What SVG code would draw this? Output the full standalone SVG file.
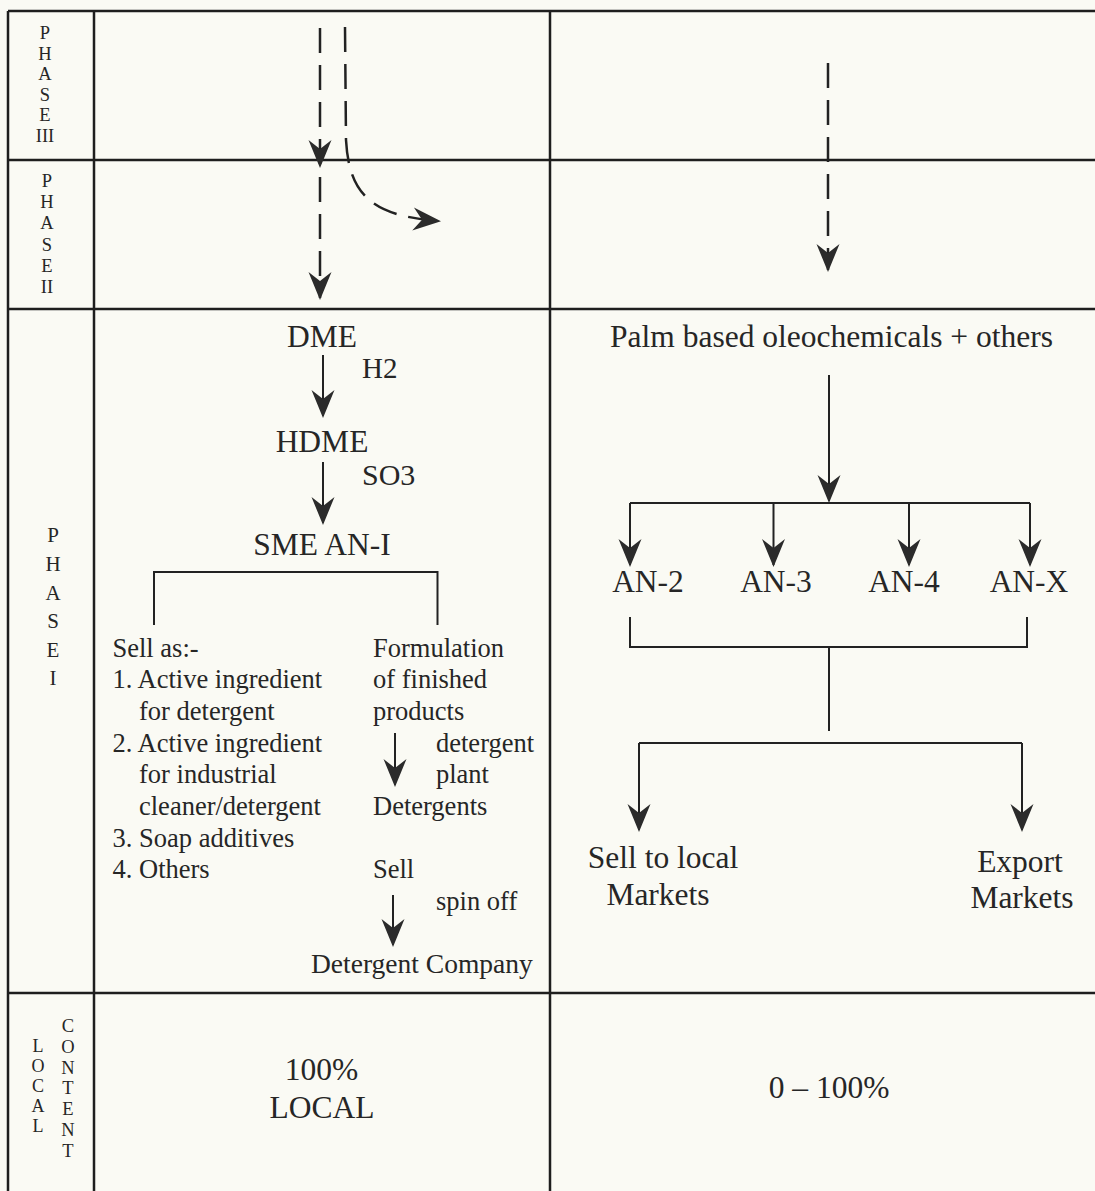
<svg xmlns="http://www.w3.org/2000/svg" width="1095" height="1191" viewBox="0 0 1095 1191">
<style>
text{font-family:"Liberation Serif","Times New Roman",serif;fill:#262626}
.lbl{font-size:18.5px;text-anchor:middle}
.lbl1{font-size:21px;text-anchor:middle}
.lbl2{font-size:18px;text-anchor:middle}
.big{font-size:31.5px}
.mid{text-anchor:middle}
.sm{font-size:26.5px}
.grid{stroke:#1e1e1e;stroke-width:2.5;fill:none}
.ln{stroke:#222;stroke-width:2;fill:none}
.arr{stroke:#222;stroke-width:2;fill:none;marker-end:url(#ah)}
.dash{stroke:#222;stroke-width:2.5;fill:none;stroke-dasharray:25 12;marker-end:url(#ah)}
</style>
<defs>
<marker id="ah" viewBox="-30 -13 32 26" refX="-2" refY="0" markerWidth="32" markerHeight="26" orient="auto" markerUnits="userSpaceOnUse">
<path d="M0,0 L-28,-11.5 L-19,0 L-28,11.5 Z" fill="#2b2b2b"/>
</marker>
</defs>
<rect width="1095" height="1191" fill="#fafaf4"/>
<g id="grid">
<path class="grid" d="M8,11 H1095 M8,160 H1095 M8,309 H1095 M8,993 H1095 M8,11 V1191 M94,11 V1191 M550,11 V1191"/>
</g>
<g id="row-labels">
<g id="label-phase3"><text class="lbl"><tspan x="45" y="39">P</tspan><tspan x="45" y="59.6">H</tspan><tspan x="45" y="80.2">A</tspan><tspan x="45" y="100.8">S</tspan><tspan x="45" y="121.4">E</tspan><tspan x="45" y="142">III</tspan></text></g>
<g id="label-phase2"><text class="lbl"><tspan x="47" y="187">P</tspan><tspan x="47" y="208.2">H</tspan><tspan x="47" y="229.4">A</tspan><tspan x="47" y="250.6">S</tspan><tspan x="47" y="271.8">E</tspan><tspan x="47" y="293">II</tspan></text></g>
<g id="label-phase1"><text class="lbl1"><tspan x="53" y="542">P</tspan><tspan x="53" y="571">H</tspan><tspan x="53" y="600">A</tspan><tspan x="53" y="628">S</tspan><tspan x="53" y="657">E</tspan><tspan x="53" y="685">I</tspan></text></g>
<g id="label-local"><text class="lbl2"><tspan x="38" y="1052">L</tspan><tspan x="38" y="1072">O</tspan><tspan x="38" y="1092">C</tspan><tspan x="38" y="1112">A</tspan><tspan x="38" y="1132">L</tspan></text></g>
<g id="label-content"><text class="lbl"><tspan x="68" y="1032">C</tspan><tspan x="68" y="1052.8">O</tspan><tspan x="68" y="1073.6">N</tspan><tspan x="68" y="1094.4">T</tspan><tspan x="68" y="1115.2">E</tspan><tspan x="68" y="1136">N</tspan><tspan x="68" y="1157">T</tspan></text></g>
</g>
<g id="connectors">
<path class="dash" d="M320,28 V166"/>
<path class="dash" d="M320,177 V298"/>
<path class="dash" d="M345,27 L346,140 C349,195 372,216 439,221"/>
<path class="dash" d="M828,63 V270"/>
<path class="arr" d="M323,355 V416"/>
<path class="arr" d="M323,462 V523"/>
<path class="ln" d="M154,625 V572 H437.5 V625"/>
<path class="arr" d="M395,733 V785"/>
<path class="arr" d="M393,895 V945"/>
<path class="arr" d="M829,375 V501"/>
<path class="ln" d="M630,503 H1030"/>
<path class="arr" d="M630,503 V565"/>
<path class="arr" d="M773.5,503 V565"/>
<path class="arr" d="M909,503 V565"/>
<path class="arr" d="M1030,503 V565"/>
<path class="ln" d="M630,617 V647 H1027 V617 M829,647 V731"/>
<path class="ln" d="M639,743 H1022"/>
<path class="arr" d="M639,743 V830"/>
<path class="arr" d="M1022,743 V830"/>
</g>
<g id="node-dme"><text class="big mid" x="322" y="347">DME</text></g>
<g id="label-h2"><text class="big" x="362" y="378" style="font-size:29px">H2</text></g>
<g id="node-hdme"><text class="big mid" x="322" y="452">HDME</text></g>
<g id="label-so3"><text class="big" x="362" y="485" style="font-size:30px">SO3</text></g>
<g id="node-sme"><text class="big mid" x="322" y="555">SME AN-I</text></g>
<g id="node-sell-as" class="sm">
<text x="112.5" y="657">Sell as:-</text>
<text x="112.5" y="688">1. Active ingredient</text>
<text x="139" y="720">for detergent</text>
<text x="112.5" y="752">2. Active ingredient</text>
<text x="139" y="783">for industrial</text>
<text x="139" y="815">cleaner/detergent</text>
<text x="112.5" y="847">3. Soap additives</text>
<text x="112.5" y="878">4. Others</text>
</g>
<g id="node-formulation" class="sm">
<text x="373" y="657">Formulation</text>
<text x="373" y="688">of finished</text>
<text x="373" y="720">products</text>
</g>
<g id="label-detergent-plant" class="sm">
<text x="436" y="752">detergent</text>
<text x="436" y="783">plant</text>
</g>
<g id="node-detergents" class="sm"><text x="373" y="815">Detergents</text></g>
<g id="node-sell" class="sm"><text x="373" y="878">Sell</text></g>
<g id="label-spin-off" class="sm"><text x="436" y="910">spin off</text></g>
<g id="node-detergent-company" class="sm"><text x="311" y="973" style="font-size:27.5px">Detergent Company</text></g>
<g id="node-palm"><text class="big mid" x="831.5" y="347">Palm based oleochemicals + others</text></g>
<g id="node-an2"><text class="big mid" x="648" y="592">AN-2</text></g>
<g id="node-an3"><text class="big mid" x="776" y="592">AN-3</text></g>
<g id="node-an4"><text class="big mid" x="904" y="592">AN-4</text></g>
<g id="node-anx"><text class="big mid" x="1029" y="592">AN-X</text></g>
<g id="node-local-markets"><text class="big mid" x="663" y="868">Sell to local</text><text class="big mid" x="658" y="905">Markets</text></g>
<g id="node-export-markets"><text class="big mid" x="1020" y="872">Export</text><text class="big mid" x="1022" y="908">Markets</text></g>
<g id="node-local-content-left"><text class="big mid" x="321.5" y="1080">100%</text><text class="big mid" x="322" y="1118">LOCAL</text></g>
<g id="node-local-content-right"><text class="big mid" x="829" y="1098">0 – 100%</text></g>
</svg>
